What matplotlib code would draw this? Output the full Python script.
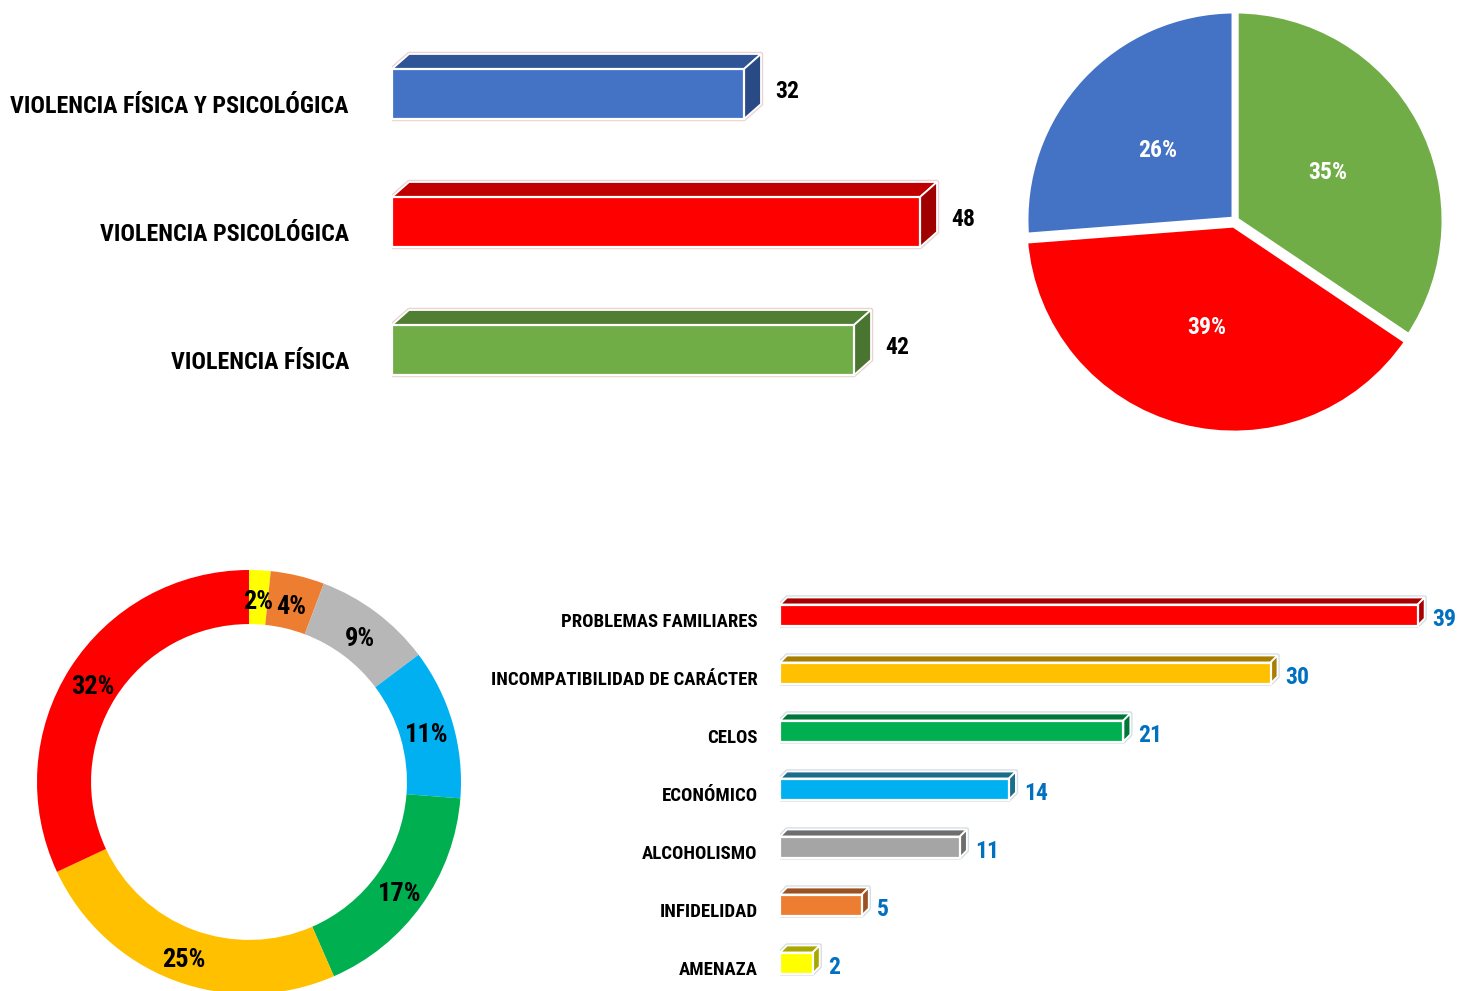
import matplotlib
matplotlib.use("Agg")
import numpy as np
import matplotlib.pyplot as plt
from matplotlib.patches import Rectangle, Polygon
from matplotlib.transforms import ScaledTranslation

plt.rcParams['font.family'] = ['Roboto Condensed', 'Archivo Narrow', 'PT Sans Narrow',
                               'Open Sans Condensed', 'IBM Plex Sans Condensed', 'DejaVu Sans']
plt.rcParams['font.weight'] = 'bold'

# ---------------- data ----------------
top_categories = ["VIOLENCIA FÍSICA Y PSICOLÓGICA", "VIOLENCIA PSICOLÓGICA", "VIOLENCIA FÍSICA"]
top_values = [32, 48, 42]
top_face = ["#4472C4", "#FF0000", "#70AD47"]
top_topc = ["#2F5597", "#C00000", "#507E32"]
top_side = ["#2A4A85", "#A00000", "#4A7530"]

pie_values = [42, 48, 32]          # green, red, blue (clockwise from top)
pie_labels = ["35%", "39%", "26%"]
pie_colors = ["#70AD47", "#FF0000", "#4472C4"]

bot_categories = ["PROBLEMAS FAMILIARES", "INCOMPATIBILIDAD DE CARÁCTER", "CELOS",
                  "ECONÓMICO", "ALCOHOLISMO", "INFIDELIDAD", "AMENAZA"]
bot_values = [39, 30, 21, 14, 11, 5, 2]
bot_face = ["#FF0000", "#FFC000", "#00B050", "#00B0F0", "#A5A5A5", "#ED7D31", "#FFFF00"]
bot_dark = ["#A80000", "#A87E00", "#00773A", "#1A6E8C", "#6E6E6E", "#9C5220", "#A8A800"]

donut_values = [2, 5, 11, 14, 21, 30, 39]   # clockwise from top
donut_labels = ["2%", "4%", "9%", "11%", "17%", "25%", "32%"]
donut_colors = ["#FFFF00", "#ED7D31", "#B7B7B7", "#00B0F0", "#00B050", "#FFC000", "#FF0000"]

W, H = 1457, 991
fig = plt.figure(figsize=(W / 100, H / 100), dpi=100)
fig.patch.set_facecolor("white")


def bar3d(ax, y, v, h, dx, dy, face, topc, side, outline):
    yt = y - h / 2   # visual top (inverted axis)
    yb = y + h / 2
    ax.add_patch(Polygon([(0, yb), (v, yb), (v + dx, yb - dy), (v + dx, yt - dy), (dx, yt - dy), (0, yt)],
                         closed=True, facecolor="none", edgecolor=outline, lw=3.2, zorder=1, joinstyle="round"))
    ax.add_patch(Polygon([(0, yt), (v, yt), (v + dx, yt - dy), (dx, yt - dy)], closed=True,
                         facecolor=topc, edgecolor="white", lw=1.3, zorder=2))
    ax.add_patch(Polygon([(v, yt), (v + dx, yt - dy), (v + dx, yb - dy), (v, yb)], closed=True,
                         facecolor=side, edgecolor="white", lw=1.3, zorder=2))
    ax.add_patch(Rectangle((0, yt), v, h, facecolor=face, edgecolor="white", lw=1.6, zorder=3))


def clean(ax):
    for s in ax.spines.values():
        s.set_visible(False)
    ax.set_xticks([])
    ax.tick_params(axis="y", length=0)
    ax.patch.set_alpha(0)


# ---------------- top bar chart ----------------
ax1 = fig.add_axes([392 / W, 1 - 414 / H, 608 / W, 384 / H])
px1, py1 = 11.0, 128.0
ax1.set_xlim(0, 608 / px1)
ax1.set_ylim(2.5, -0.5)
for i, v in enumerate(top_values):
    bar3d(ax1, i, v, 50 / py1, 17 / px1, 15 / py1, top_face[i], top_topc[i], top_side[i], "#EBD3D3")
    ax1.annotate(str(v), (v + 17 / px1, i), xytext=(14, 3), textcoords="offset pixels",
                 ha="left", va="center", fontsize=17, fontweight="bold", color="black")
ax1.set_yticks(range(len(top_categories)))
ax1.set_yticklabels(top_categories, fontsize=17.3, fontweight="bold")
ax1.tick_params(axis="y", pad=31)
clean(ax1)
for lab in ax1.get_yticklabels():
    lab.set_transform(lab.get_transform() + ScaledTranslation(0, -10 / 100, fig.dpi_scale_trans))

# ---------------- top pie ----------------
ax2 = fig.add_axes([1025 / W, 1 - 430 / H, 420 / W, 420 / H])
wedges, texts = ax2.pie(pie_values, colors=pie_colors, startangle=90, counterclock=False,
                        explode=[0.0, 0.02, 0.0],
                        wedgeprops=dict(edgecolor="white", linewidth=5))
for w, lab in zip(wedges, pie_labels):
    ang = np.deg2rad((w.theta1 + w.theta2) / 2)
    cx, cy = w.center
    ax2.text(cx + 0.5 * np.cos(ang), cy + 0.5 * np.sin(ang) - 0.01, lab, ha="center", va="center",
             color="white", fontsize=17, fontweight="bold")
ax2.set_xlim(-1.0, 1.0)
ax2.set_ylim(-1.0, 1.0)
ax2.set_aspect("equal")
ax2.axis("off")

# ---------------- donut ----------------
ax3 = fig.add_axes([37 / W, 1 - 994 / H, 424 / W, 424 / H])
wedges3, _ = ax3.pie(donut_values, colors=donut_colors, startangle=90, counterclock=False,
                     wedgeprops=dict(width=0.255, edgecolor="none"))
for w, lab in zip(wedges3, donut_labels):
    ang = np.deg2rad((w.theta1 + w.theta2) / 2)
    ax3.text(0.872 * np.cos(ang), 0.872 * np.sin(ang) - 0.022, lab, ha="center", va="center",
             color="black", fontsize=19, fontweight="bold")
ax3.set_xlim(-1.0, 1.0)
ax3.set_ylim(-1.0, 1.0)
ax3.set_aspect("equal")
ax3.axis("off")

# ---------------- bottom bar chart ----------------
ax4 = fig.add_axes([780 / W, 1 - 992 / H, 677 / W, 406 / H])
px4, py4 = 16.35, 58.0
ax4.set_xlim(0, 677 / px4)
ax4.set_ylim(len(bot_values) - 0.5, -0.5)
for i, v in enumerate(bot_values):
    bar3d(ax4, i, v, 21 / py4, 7 / px4, 7 / py4, bot_face[i], bot_dark[i], bot_dark[i], "#D5DEE3")
    ax4.annotate(str(v), (v + 7 / px4, i), xytext=(8, -4), textcoords="offset pixels",
                 ha="left", va="center", fontsize=17, fontweight="bold", color="#0070C0",
                 annotation_clip=False)
ax4.set_yticks(range(len(bot_categories)))
ax4.set_yticklabels(bot_categories, fontsize=13.5, fontweight="bold")
ax4.tick_params(axis="y", pad=16)
clean(ax4)
for lab in ax4.get_yticklabels():
    lab.set_transform(lab.get_transform() + ScaledTranslation(0, -5 / 100, fig.dpi_scale_trans))

fig.savefig("out.png", dpi=100, facecolor="white")
